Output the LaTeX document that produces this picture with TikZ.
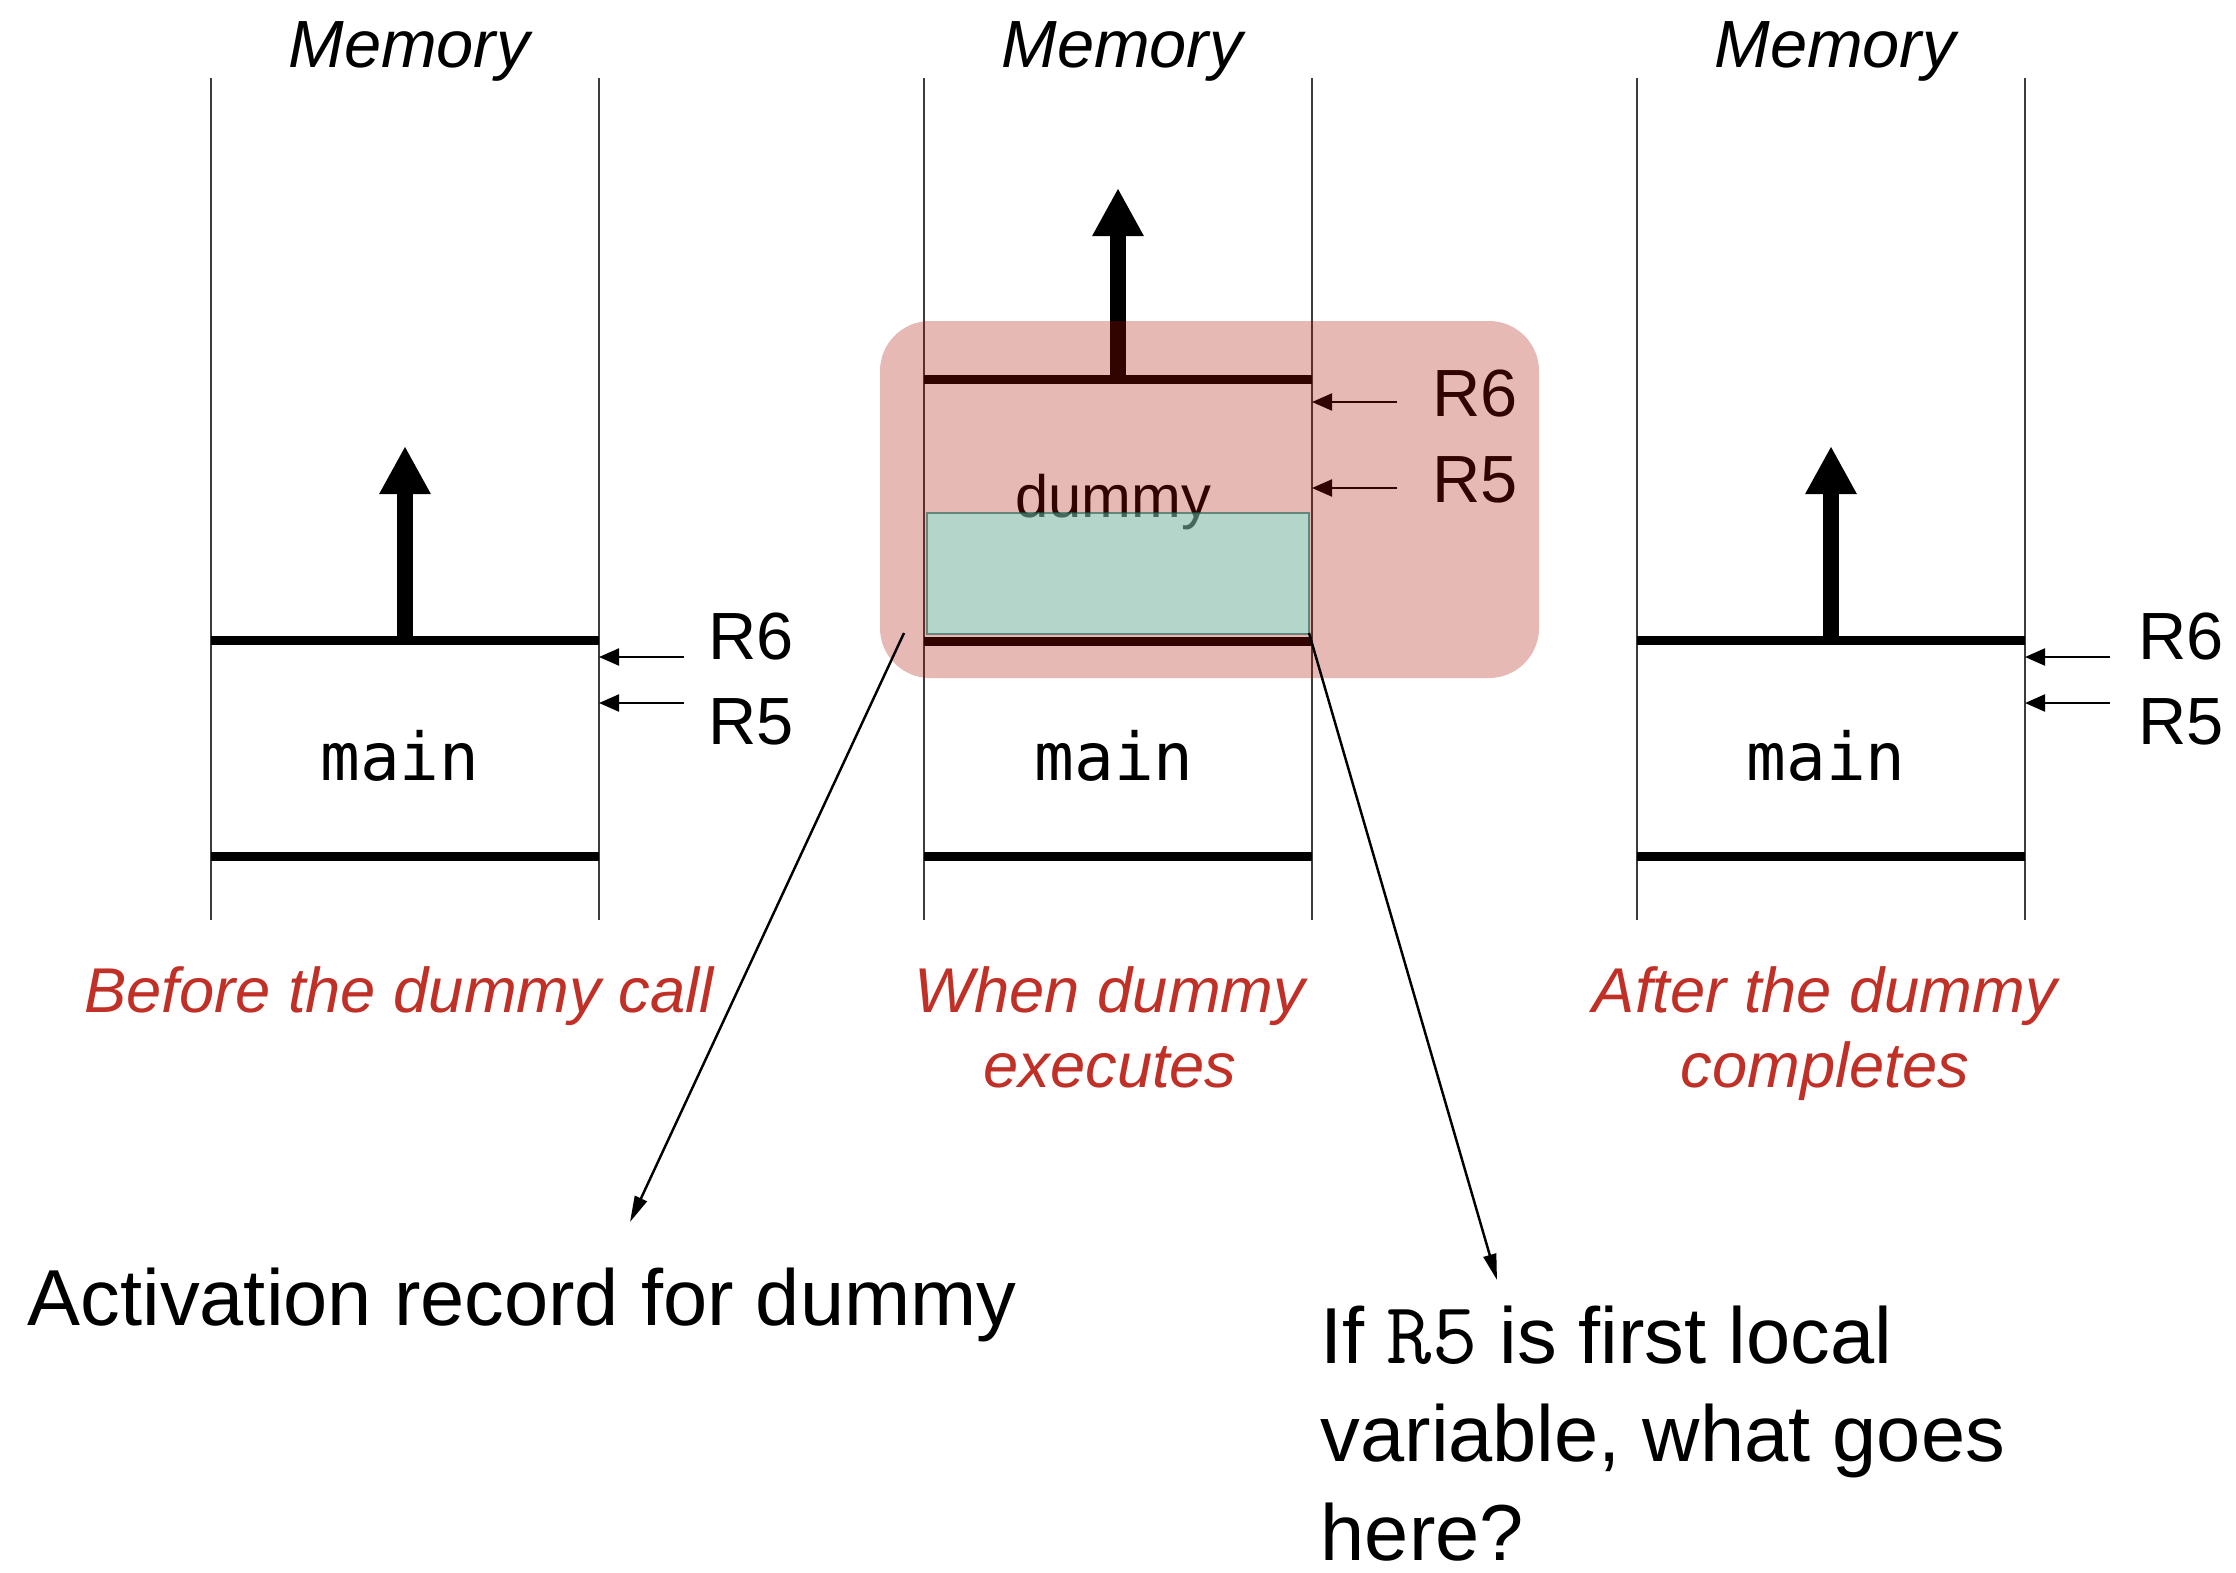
\documentclass[tikz,border=0pt]{standalone}
\usepackage{fontspec}
\setmainfont{Liberation Sans}
\newfontfamily\stackmono{DejaVu Sans Mono}
\usetikzlibrary{arrows.meta}
\definecolor{capred}{RGB}{192,48,38}
\definecolor{arred}{RGB}{172,17,0}
\definecolor{localteal}{RGB}{107,255,235}
\definecolor{tealedge}{RGB}{30,90,80}
\definecolor{wallgray}{RGB}{60,60,60}

\begin{document}
\begin{tikzpicture}[
  wall/.style={draw=wallgray, line width=0.6pt},
  frameline/.style={line width=0.09cm},
  growth/.style={line width=0.16cm, -{Triangle[width=0.48cm,length=0.48cm]}},
  regptr/.style={line width=0.6pt, -{Triangle[width=0.17cm,length=0.2cm]}},
  callout/.style={line width=0.7pt, -{Triangle[width=0.13cm,length=0.26cm]}},
  memtitle/.style={font=\fontsize{19}{22}\selectfont\itshape, anchor=base, inner sep=0pt},
  reglabel/.style={font=\fontsize{19}{22}\selectfont, anchor=base west, inner sep=0pt},
  framelabel/.style={font=\stackmono\fontsize{18.8}{22}\selectfont, anchor=base, inner sep=0pt},
  caption/.style={font=\fontsize{18}{21.3}\selectfont\itshape, text=capred, align=center, anchor=base, inner sep=0pt},
  note/.style={font=\fontsize{22.6}{27.9}\selectfont, anchor=base west, align=left, inner sep=0pt}
]
		\useasboundingbox (0,0) rectangle (22.36,-15.73);
		\fill[white] (0,0) rectangle (22.36,-15.73);
		
		% THE TITLES
		\node[memtitle] (memA) at (4.09,-0.67) {Memory};
		\node[memtitle] (memB) at (11.22,-0.67) {Memory};
		\node[memtitle] (memC) at (18.35,-0.67) {Memory};
		%
		% THE WALLS
		\draw[wall] (2.11,-0.78) -- (2.11,-9.20);
		\draw[wall] (5.99,-0.78) -- (5.99,-9.20);
		\draw[wall] (9.24,-0.78) -- (9.24,-9.20);
		\draw[wall] (13.12,-0.78) -- (13.12,-9.20);
		\draw[wall] (16.37,-0.78) -- (16.37,-9.20);
		\draw[wall] (20.25,-0.78) -- (20.25,-9.20);
		%
		% BEFORE THE CALL
		\draw[frameline] (2.11,-6.40) -- (5.99,-6.40);
		\draw[frameline] (2.11,-8.56) -- (5.99,-8.56);
		\draw[growth] (4.05,-6.40) -- (4.05,-4.46);
		\node[framelabel] (mainA) at (4.00,-7.80) {main};
		\coordinate (r6tailA) at (6.84,-6.57);
		\coordinate (r5tailA) at (6.84,-7.03);
		\draw[regptr] (r6tailA) -- (5.99,-6.57);
		\draw[regptr] (r5tailA) -- (5.99,-7.03);
		\node[reglabel] (r6A) at (7.08,-6.59) {R6};
		\node[reglabel] (r5A) at (7.08,-7.44) {R5};
		%
		% WHILE DUMMY RUNS
		\draw[frameline] (9.24,-3.79) -- (13.12,-3.79);
		\draw[frameline] (9.24,-6.41) -- (13.12,-6.41);
		\draw[frameline] (9.24,-8.56) -- (13.12,-8.56);
		\draw[growth] (11.18,-3.79) -- (11.18,-1.88);
		\node[font=\fontsize{17}{20}\selectfont, anchor=base, inner sep=0pt] (dummyB) at (11.13,-5.17) {dummy};
		\node[framelabel] (mainB) at (11.14,-7.80) {main};
		\coordinate (r6tailB) at (13.97,-4.02);
		\coordinate (r5tailB) at (13.97,-4.88);
		\draw[regptr] (r6tailB) -- (13.12,-4.02);
		\draw[regptr] (r5tailB) -- (13.12,-4.88);
		\node[reglabel] (r6B) at (14.32,-4.16) {R6};
		\node[reglabel] (r5B) at (14.32,-5.02) {R5};
		%
		% AFTER THE CALL
		\draw[frameline] (16.37,-6.40) -- (20.25,-6.40);
		\draw[frameline] (16.37,-8.56) -- (20.25,-8.56);
		\draw[growth] (18.31,-6.40) -- (18.31,-4.46);
		\node[framelabel] (mainC) at (18.26,-7.80) {main};
		\coordinate (r6tailC) at (21.10,-6.57);
		\coordinate (r5tailC) at (21.10,-7.03);
		\draw[regptr] (r6tailC) -- (20.25,-6.57);
		\draw[regptr] (r5tailC) -- (20.25,-7.03);
		\node[reglabel] (r6C) at (21.38,-6.59) {R6};
		\node[reglabel] (r5C) at (21.38,-7.44) {R5};
		%
		% THE FILLS!
		% ACTIVATION RECORD
		\path[fill=arred, fill opacity=0.29, rounded corners=0.5cm]
		(8.80,-3.21) rectangle (15.39,-6.78);
		% FIRST LOCAL
		\path[fill=localteal, fill opacity=0.4, draw=tealedge, draw opacity=0.6, line width=0.7pt]
		(9.27,-5.13) rectangle (13.09,-6.34);
		%
		% THE CAPTIONS (multi-line ones sit on their last line)
		\node[caption] (capA) at (3.99,-10.12) {Before the dummy call};
		\node[caption] (capB) at (11.10,-10.87) {When dummy\\executes};
		\node[caption] (capC) at (18.25,-10.87) {After the dummy\\completes};
		%
		% THE NOTES
		\node[note] (actnote) at (0.27,-13.25) {Activation record for dummy};
		\node[note] (qnote) at (13.20,-15.60) {If {\ttfamily\fontsize{25}{27.9}\selectfont R5} is first local\\variable, what goes\\here?};
		\coordinate (arcorner) at (9.04,-6.33);
		\coordinate (tealcorner) at (13.09,-6.33);
		\coordinate (acttip) at (6.30,-12.22);
		\coordinate (qtip) at (14.97,-12.80);
		\draw[callout] (arcorner) -- (acttip);
		\draw[callout] (tealcorner) -- (qtip);
	\end{tikzpicture}
\end{document}
